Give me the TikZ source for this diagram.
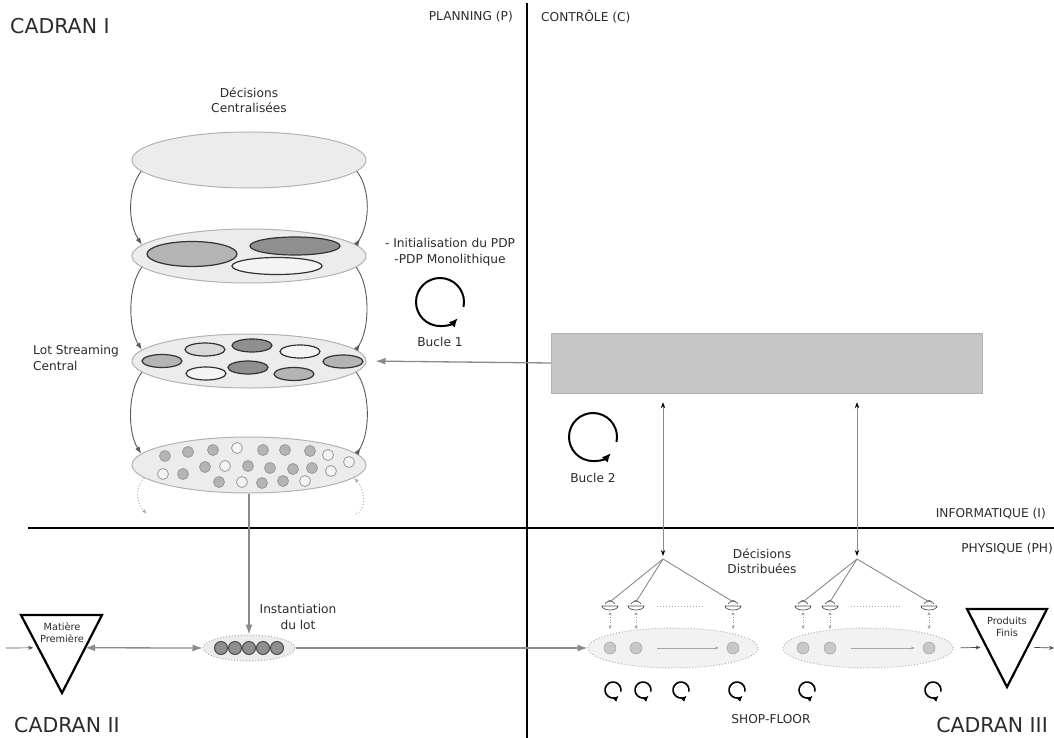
\documentclass[tikz,border=0pt]{standalone}
\usepackage{fontspec}
\setmainfont{DejaVu Sans}
\usepackage{xcolor}
\usepackage{tikz}
\usetikzlibrary{shapes.geometric, arrows.meta, positioning, calc}

\definecolor{texte}{HTML}{2B2B2B}
\definecolor{fondclair}{HTML}{ECECEC}
\definecolor{fondatelier}{HTML}{F2F2F2}
\definecolor{grismoyen}{HTML}{B4B4B4}
\definecolor{grisfonce}{HTML}{8F8F8F}
\definecolor{grisclair}{HTML}{D9D9D9}
\definecolor{blanccasse}{HTML}{F4F4F4}
\definecolor{grisrect}{HTML}{C6C6C6}
\definecolor{grismachine}{HTML}{C8C8C8}
\definecolor{trait}{HTML}{8A8A8A}

\begin{document}
\begin{tikzpicture}[x=1pt, y=-1pt,
    lbl/.style={inner sep=0pt, align=center, text=texte, font=\fontsize{12.2}{15.5}\selectfont},
    cadran/.style={inner sep=0pt, text=texte, font=\fontsize{20.5}{24}\selectfont},
    petit/.style={inner sep=0pt, align=center, text=texte, font=\fontsize{9.8}{12}\selectfont},
    plateau/.style={ellipse, draw=gray!60, fill=fondclair, line width=1pt, inner sep=0pt},
    atelier/.style={ellipse, draw=gray!60, fill=fondatelier, dotted, line width=1pt, inner sep=0pt},
    machine/.style={circle, draw=gray!80, fill=grismachine, minimum size=12pt, inner sep=0pt},
    capteur/.style={minimum width=16pt, minimum height=8pt, inner sep=0pt},
    liaison/.style={draw=black!65, line width=0.9pt},
    pointille/.style={draw=gray!60, line width=1pt, dotted},
    fleche/.style={draw=trait, line width=1.3pt, -{Latex[length=10pt,width=7pt]}},
    flechefine/.style={draw=black!70, line width=0.7pt, -{Stealth[length=5pt,width=4pt]}},
    entrepot/.style={draw=black, line width=2.2pt, line join=miter},
    boucle/.style={draw=black, line width=2pt, -{Latex[length=9pt,width=8pt]}},
    minibouc/.style={draw=black, line width=1.6pt, -{Latex[length=6pt,width=5.5pt]}}]

\useasboundingbox (0,0) rectangle (1054,738);

%---------------- Quadrants ----------------%
\draw[line width=2pt] (527,3) -- (527,738);
\draw[line width=2pt] (28,528) -- (1054,528);

\node[cadran, anchor=west] (cadI) at (10,26) {CADRAN I};
\node[cadran, anchor=west] (cadII) at (14,725) {CADRAN II};
\node[cadran, anchor=east] (cadIII) at (1048,725) {CADRAN III};

\node[lbl, anchor=east] (plan) at (513,17) {PLANNING (P)};
\node[lbl, anchor=west] (ctrlT) at (541,17) {CONTRÔLE (C)};
\node[lbl, anchor=east] (info) at (1046,514) {INFORMATIQUE (I)};
\node[lbl, anchor=east] (phys) at (1053,549) {PHYSIQUE (PH)};

%---------------- Planning stack ----------------%
\node[lbl] (dcT) at (249,100) {Décisions\\Centralisées};
\node[plateau, minimum width=234pt, minimum height=56pt] (centr) at (249,160) {};
\node[plateau, minimum width=234pt, minimum height=54pt] (init) at (249,256) {};
\node[plateau, minimum width=234pt, minimum height=54pt] (stream) at (249,361) {};
\node[plateau, minimum width=234pt, minimum height=56pt] (lots) at (249,465) {};

\foreach \cx/\cy/\rx/\ry/\col in {192/254/45/12.5/grismoyen, 295/246/45/9/grisfonce, 277/266/45/8.5/blanccasse}
    \draw[draw=black!80, line width=1.2pt, fill=\col] (\cx,\cy) ellipse [x radius=\rx, y radius=\ry];

\foreach \cx/\cy/\col in {162/361/grismoyen, 205/349.5/grisclair, 252/345.5/grisfonce, 300/351.5/blanccasse,
                          343/361.5/grismoyen, 206/373.5/blanccasse, 248/367.5/grisfonce, 294/374/grismoyen}
    \draw[draw=black!80, line width=1.2pt, fill=\col] (\cx,\cy) ellipse [x radius=20, y radius=6.5];

\foreach \cx/\cy/\col in {165/456/grismoyen, 188/452/grismoyen, 213/450/grismoyen, 237/448/blanccasse,
                          263/450/grismoyen, 285/450/grismoyen, 310/451/grismoyen, 328/455/blanccasse,
                          349/462/blanccasse, 163/474/blanccasse, 183/474/grismoyen, 205/467/grismoyen,
                          225/466/blanccasse, 248/466/grismoyen, 270/468/grismoyen, 293/469/grismoyen,
                          312/468/grismoyen, 331/471/blanccasse, 219/482/grismoyen, 242/482/blanccasse,
                          262/483/grismoyen, 283/481/grismoyen, 305/481/blanccasse}
    \draw[draw=gray!80, line width=0.8pt, fill=\col] (\cx,\cy) circle [radius=5.5];

\foreach \hi/\lo in {centr/init, init/stream, stream/lots}{
    \draw[liaison, -{Latex[length=7pt,width=5pt]}] (\hi.186) .. controls +(-14,18) and +(-14,-22) .. (\lo.174);
    \draw[liaison, -{Latex[reversed,length=7pt,width=5pt]}] (\hi.354) .. controls +(14,18) and +(14,-22) .. (\lo.6);
}

\coordinate (dL) at (147,514);
\coordinate (dR) at (356,514);
\draw[pointille, -{Latex[length=5pt,width=4pt]}] (lots.187) .. controls +(-12,14) and +(-8,-8) .. (dL);
\draw[pointille, -{Latex[length=5pt,width=4pt]}] (dR) .. controls +(12,-4) and +(10,10) .. (lots.353);

\node[lbl, align=left, anchor=west] (lscT) at (33,358) {Lot Streaming\\Central};
\node[lbl] (pdpT) at (450,252) {- Initialisation du PDP\\-PDP Monolithique};

%---------------- Bucles ----------------%
\coordinate (b1) at (440,302);
\draw[boucle] ($(b1)+(12:24)$) arc [start angle=12, end angle=-318, radius=24];
\node[lbl, below=35pt of b1] (b1T) {Bucle 1};

\coordinate (b2) at (593,437);
\draw[boucle] ($(b2)+(12:24)$) arc [start angle=12, end angle=-318, radius=24];
\node[lbl, below=36pt of b2] (b2T) {Bucle 2};

%---------------- Controle ----------------%
\node[draw=gray!60, fill=grisrect, minimum width=431pt, minimum height=60pt, inner sep=0pt] (ctrl) at (766.5,363) {};
\draw[fleche, shorten >=9pt] (ctrl.west) -- (stream.east);

\coordinate (apexA) at (663,559);
\coordinate (apexB) at (857,559);
\foreach \g in {A,B}
    \draw[draw=trait, line width=1pt, {Stealth[black,length=6pt,width=4.5pt]}-{Stealth[black,length=6pt,width=4.5pt]},
          shorten <=3pt, shorten >=9pt] (apex\g) -- (apex\g |- ctrl.south);

%---------------- Shop-floor ----------------%
\node[lbl] (ddT) at (762,561) {Décisions\\Distribuées};
\node[lbl] (shop) at (771,719) {SHOP-FLOOR};

\foreach \g/\cx/\xa/\xb/\xc in {A/673/610/636/733, B/868/803/830/929}{
    \node[atelier, minimum width=170pt, minimum height=40pt] (sf\g) at (\cx,648) {};
    \foreach \k/\kx in {a/\xa, b/\xb, c/\xc}{
        \node[capteur] (s\g\k) at (\kx,606) {};
        \draw[draw=black!70, line width=0.7pt] ($(s\g\k)+(-8,0)$) arc [start angle=180, end angle=0, x radius=8, y radius=4] -- cycle;
        \draw[draw=black!70, line width=0.6pt] ($(s\g\k)+(-5,-2)$) arc [start angle=180, end angle=360, x radius=5, y radius=2.5];
        \draw[draw=black!70, line width=0.6pt] ($(s\g\k)+(-2.5,-4)$) arc [start angle=180, end angle=360, x radius=2.5, y radius=1.5];
        \node[machine] (m\g\k) at (\kx,648) {};
        \draw[draw=trait, line width=0.9pt] (apex\g) -- (s\g\k.north);
        \draw[draw=gray!80, line width=0.8pt, dotted, {Stealth[length=3pt,width=3pt]}-{Stealth[length=3pt,width=3pt]},
              shorten <=2pt, shorten >=13pt] (s\g\k.south) -- (m\g\k.north);
    }
    \draw[draw=gray!70, line width=1pt, dotted, shorten <=13pt, shorten >=20pt] (s\g b.east) -- (s\g c.west);
    \draw[draw=gray!70, line width=0.6pt, -{Stealth[length=4pt,width=3pt]}, shorten <=15pt, shorten >=8pt] (m\g b.east) -- (m\g c.west);
}

\foreach \lx in {613,643,681,737,807,933}
    \draw[minibouc] ($(\lx,690)+(12:8)$) arc [start angle=12, end angle=-315, radius=8];

%---------------- Lot ----------------%
\node[atelier, fill=fondclair, minimum width=92pt, minimum height=26pt] (inst) at (249,648) {};
\foreach \i in {0,...,4}
    \draw[draw=black!70, line width=1pt, fill=grisfonce] (221+\i*14,648) circle [radius=6.5];
\node[lbl] (instT) at (298,617) {Instantiation\\du lot};

\draw[fleche] (lots.south) -- (inst.north);
\draw[fleche] (inst.east) -- (sfA.west);

%---------------- Stocks ----------------%
\coordinate (mpA) at (21,615);
\coordinate (mpB) at (102,615);
\coordinate (mpC) at (62,693);
\draw[entrepot] (mpA) -- (mpB) -- (mpC) -- cycle;
\node[petit] (mpT) at (62,633) {Matière\\Première};

\coordinate (entree) at (6,648);
\draw[flechefine, shorten >=5pt] (entree) -- ($(mpA)!0.42!(mpC)$);
\draw[fleche, {Latex[length=10pt,width=7pt]}-{Latex[length=10pt,width=7pt]}] ($(mpB)!0.42!(mpC)$) -- (inst.west);

\coordinate (pfA) at (967,609);
\coordinate (pfB) at (1047,609);
\coordinate (pfC) at (1007,687);
\draw[entrepot] (pfA) -- (pfB) -- (pfC) -- cycle;
\node[petit] (pfT) at (1007,627) {Produits\\Finis};

\coordinate (sortie) at (1054,648);
\draw[flechefine, shorten <=7pt, shorten >=6pt] (sfB.east) -- ($(pfA)!0.49!(pfC)$);
\draw[flechefine, shorten <=7pt] ($(pfB)!0.49!(pfC)$) -- (sortie);

\end{tikzpicture}
\end{document}
